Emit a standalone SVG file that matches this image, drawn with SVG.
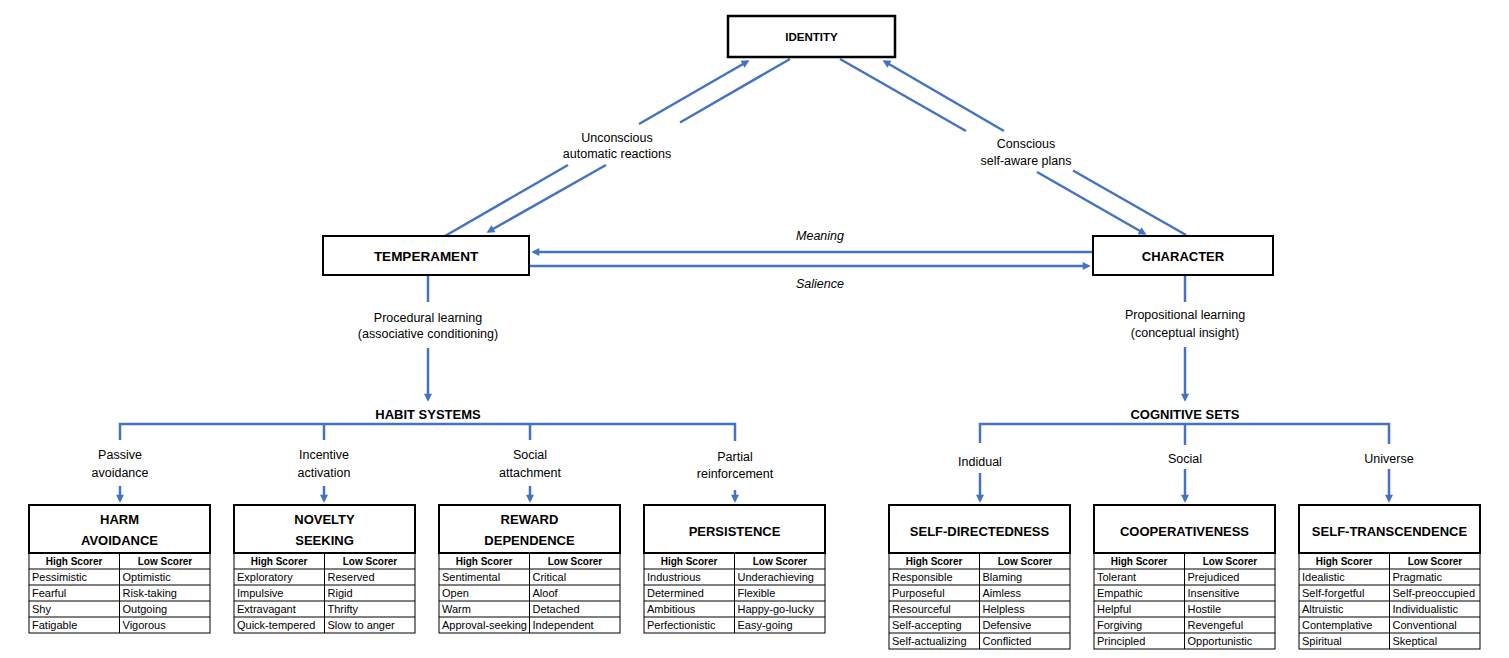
<svg xmlns="http://www.w3.org/2000/svg" width="1509" height="658" viewBox="0 0 1509 658">
<defs>
<marker id="ah" viewBox="0 0 10 10" markerUnits="userSpaceOnUse" markerWidth="9" markerHeight="8" refX="7" refY="5" orient="auto">
<path d="M0,0 L10,5 L0,10 z" fill="#4472C4"/>
</marker>
<style>
.ln{stroke:#4472C4;stroke-width:2.5;fill:none}
.arr{marker-end:url(#ah)}
.box{fill:#fff;stroke:#000;stroke-width:2.5}
.tbox{fill:#fff;stroke:#000;stroke-width:2}
.cell{fill:none;stroke:#000;stroke-width:1}
text{font-family:"Liberation Sans",Arial,sans-serif;fill:#000}
.nt{font-size:13px;font-weight:bold;text-anchor:middle}
.lb{font-size:12.5px;text-anchor:middle}
.it{font-size:12.5px;font-style:italic;text-anchor:middle}
.hd{font-size:13px;font-weight:bold;text-anchor:middle}
.tt{font-size:13px;font-weight:bold;text-anchor:middle}
.th{font-size:10px;font-weight:bold;text-anchor:middle}
.td{font-size:11px}
</style>
</defs>
<rect width="1509" height="658" fill="#fff"/>

<g id="connectors">
<line class="ln" x1="445" y1="236" x2="568" y2="165"/>
<line class="ln arr" x1="639" y1="124" x2="747.4" y2="61.5"/>
<line class="ln" x1="790" y1="59" x2="680" y2="122.5"/>
<line class="ln arr" x1="606" y1="165" x2="488.6" y2="231.5"/>
<line class="ln" x1="840" y1="59" x2="966" y2="131"/>
<line class="ln arr" x1="1037" y1="172" x2="1144.4" y2="233.5"/>
<line class="ln" x1="1186" y1="235" x2="1073" y2="170.5"/>
<line class="ln arr" x1="1004" y1="131" x2="884.6" y2="61.5"/>
<line class="ln arr" x1="1093" y1="252" x2="533.7" y2="252"/>
<line class="ln arr" x1="529" y1="266" x2="1088.3" y2="266"/>
<line class="ln" x1="428" y1="275" x2="428" y2="302"/>
<line class="ln arr" x1="428" y1="348" x2="428" y2="399.3"/>
<line class="ln" x1="1185" y1="275" x2="1185" y2="302"/>
<line class="ln arr" x1="1185" y1="347" x2="1185" y2="399.3"/>
<polyline class="ln" points="120,440 120,424 735,424 735,441"/>
<line class="ln" x1="324" y1="424" x2="324" y2="440"/>
<line class="ln" x1="530" y1="424" x2="530" y2="440"/>
<line class="ln arr" x1="120" y1="486" x2="120" y2="500.3"/>
<line class="ln arr" x1="324" y1="486" x2="324" y2="500.3"/>
<line class="ln arr" x1="530" y1="486" x2="530" y2="500.3"/>
<line class="ln arr" x1="735" y1="490" x2="735" y2="500.3"/>
<polyline class="ln" points="980,443 980,424 1389,424 1389,444"/>
<line class="ln" x1="1185" y1="424" x2="1185" y2="445"/>
<line class="ln arr" x1="980" y1="473" x2="980" y2="500.3"/>
<line class="ln arr" x1="1185" y1="469" x2="1185" y2="500.3"/>
<line class="ln arr" x1="1389" y1="469" x2="1389" y2="500.3"/>
</g>

<g id="connector-labels">
<text class="lb" x="617" y="141.5">Unconscious</text>
<text class="lb" x="617" y="157.5">automatic reactions</text>
<text class="lb" x="1026" y="147.5">Conscious</text>
<text class="lb" x="1026" y="164.5">self-aware plans</text>
<text class="it" x="820" y="239.5">Meaning</text>
<text class="it" x="820" y="287.5">Salience</text>
<text class="lb" x="428" y="321.5">Procedural learning</text>
<text class="lb" x="428" y="337.5">(associative conditioning)</text>
<text class="lb" x="1185" y="318.5">Propositional learning</text>
<text class="lb" x="1185" y="336.5">(conceptual insight)</text>
<text class="lb" x="120" y="458.5">Passive</text>
<text class="lb" x="120" y="476.5">avoidance</text>
<text class="lb" x="324" y="458.5">Incentive</text>
<text class="lb" x="324" y="476.5">activation</text>
<text class="lb" x="530" y="458.5">Social</text>
<text class="lb" x="530" y="476.5">attachment</text>
<text class="lb" x="735" y="460.5">Partial</text>
<text class="lb" x="735" y="477.5">reinforcement</text>
<text class="lb" x="980" y="465.5">Indidual</text>
<text class="lb" x="1185" y="462.5">Social</text>
<text class="lb" x="1389" y="462.5">Universe</text>
</g>

<g id="identity">
<rect class="box" x="728" y="16" width="167" height="41"/>
<text class="nt" x="811.5" y="40.5" style="font-size:11.5px">IDENTITY</text>
</g>
<g id="temperament">
<rect class="tbox" x="323" y="236" width="206" height="39"/>
<text class="nt" x="426" y="261" style="font-size:13.5px">TEMPERAMENT</text>
</g>
<g id="character">
<rect class="tbox" x="1093" y="236" width="180" height="39"/>
<text class="nt" x="1183" y="261">CHARACTER</text>
</g>
<g id="habit-systems">
<text class="hd" x="428" y="418.5">HABIT SYSTEMS</text>
</g>
<g id="cognitive-sets">
<text class="hd" x="1185" y="418.5">COGNITIVE SETS</text>
</g>

<g id="harm-avoidance">
<rect class="cell" x="29" y="553" width="181" height="80"/>
<path class="cell" d="M29,569H210M29,585H210M29,601H210M29,617H210M119.5,553V633"/>
<rect class="tbox" x="29" y="505" width="181" height="48"/>
<text class="tt" x="119.5" y="524">HARM</text>
<text class="tt" x="119.5" y="545">AVOIDANCE</text>
<text class="th" x="74" y="564.5">High Scorer</text>
<text class="th" x="165" y="564.5">Low Scorer</text>
<text class="td" x="32" y="581">Pessimistic</text><text class="td" x="122.5" y="581">Optimistic</text>
<text class="td" x="32" y="597">Fearful</text><text class="td" x="122.5" y="597">Risk-taking</text>
<text class="td" x="32" y="613">Shy</text><text class="td" x="122.5" y="613">Outgoing</text>
<text class="td" x="32" y="629">Fatigable</text><text class="td" x="122.5" y="629">Vigorous</text>
</g>

<g id="novelty-seeking">
<rect class="cell" x="234" y="553" width="181" height="80"/>
<path class="cell" d="M234,569H415M234,585H415M234,601H415M234,617H415M324.5,553V633"/>
<rect class="tbox" x="234" y="505" width="181" height="48"/>
<text class="tt" x="324.5" y="524">NOVELTY</text>
<text class="tt" x="324.5" y="545">SEEKING</text>
<text class="th" x="279" y="564.5">High Scorer</text>
<text class="th" x="370" y="564.5">Low Scorer</text>
<text class="td" x="237" y="581">Exploratory</text><text class="td" x="327.5" y="581">Reserved</text>
<text class="td" x="237" y="597">Impulsive</text><text class="td" x="327.5" y="597">Rigid</text>
<text class="td" x="237" y="613">Extravagant</text><text class="td" x="327.5" y="613">Thrifty</text>
<text class="td" x="237" y="629">Quick-tempered</text><text class="td" x="327.5" y="629">Slow to anger</text>
</g>

<g id="reward-dependence">
<rect class="cell" x="439" y="553" width="181" height="80"/>
<path class="cell" d="M439,569H620M439,585H620M439,601H620M439,617H620M529.5,553V633"/>
<rect class="tbox" x="439" y="505" width="181" height="48"/>
<text class="tt" x="529.5" y="524">REWARD</text>
<text class="tt" x="529.5" y="545">DEPENDENCE</text>
<text class="th" x="484" y="564.5">High Scorer</text>
<text class="th" x="575" y="564.5">Low Scorer</text>
<text class="td" x="442" y="581">Sentimental</text><text class="td" x="532.5" y="581">Critical</text>
<text class="td" x="442" y="597">Open</text><text class="td" x="532.5" y="597">Aloof</text>
<text class="td" x="442" y="613">Warm</text><text class="td" x="532.5" y="613">Detached</text>
<text class="td" x="442" y="629">Approval-seeking</text><text class="td" x="532.5" y="629">Independent</text>
</g>

<g id="persistence">
<rect class="cell" x="644" y="553" width="181" height="80"/>
<path class="cell" d="M644,569H825M644,585H825M644,601H825M644,617H825M734.5,553V633"/>
<rect class="tbox" x="644" y="505" width="181" height="48"/>
<text class="tt" x="734.5" y="535.5">PERSISTENCE</text>
<text class="th" x="689" y="564.5">High Scorer</text>
<text class="th" x="780" y="564.5">Low Scorer</text>
<text class="td" x="647" y="581">Industrious</text><text class="td" x="737.5" y="581">Underachieving</text>
<text class="td" x="647" y="597">Determined</text><text class="td" x="737.5" y="597">Flexible</text>
<text class="td" x="647" y="613">Ambitious</text><text class="td" x="737.5" y="613">Happy-go-lucky</text>
<text class="td" x="647" y="629">Perfectionistic</text><text class="td" x="737.5" y="629">Easy-going</text>
</g>

<g id="self-directedness">
<rect class="cell" x="889" y="553" width="181" height="96"/>
<path class="cell" d="M889,569H1070M889,585H1070M889,601H1070M889,617H1070M889,633H1070M979.5,553V649"/>
<rect class="tbox" x="889" y="505" width="181" height="48"/>
<text class="tt" x="979.5" y="535.5">SELF-DIRECTEDNESS</text>
<text class="th" x="934" y="564.5">High Scorer</text>
<text class="th" x="1025" y="564.5">Low Scorer</text>
<text class="td" x="892" y="581">Responsible</text><text class="td" x="982.5" y="581">Blaming</text>
<text class="td" x="892" y="597">Purposeful</text><text class="td" x="982.5" y="597">Aimless</text>
<text class="td" x="892" y="613">Resourceful</text><text class="td" x="982.5" y="613">Helpless</text>
<text class="td" x="892" y="629">Self-accepting</text><text class="td" x="982.5" y="629">Defensive</text>
<text class="td" x="892" y="645">Self-actualizing</text><text class="td" x="982.5" y="645">Conflicted</text>
</g>

<g id="cooperativeness">
<rect class="cell" x="1094" y="553" width="181" height="96"/>
<path class="cell" d="M1094,569H1275M1094,585H1275M1094,601H1275M1094,617H1275M1094,633H1275M1184.5,553V649"/>
<rect class="tbox" x="1094" y="505" width="181" height="48"/>
<text class="tt" x="1184.5" y="535.5">COOPERATIVENESS</text>
<text class="th" x="1139" y="564.5">High Scorer</text>
<text class="th" x="1230" y="564.5">Low Scorer</text>
<text class="td" x="1097" y="581">Tolerant</text><text class="td" x="1187.5" y="581">Prejudiced</text>
<text class="td" x="1097" y="597">Empathic</text><text class="td" x="1187.5" y="597">Insensitive</text>
<text class="td" x="1097" y="613">Helpful</text><text class="td" x="1187.5" y="613">Hostile</text>
<text class="td" x="1097" y="629">Forgiving</text><text class="td" x="1187.5" y="629">Revengeful</text>
<text class="td" x="1097" y="645">Principled</text><text class="td" x="1187.5" y="645">Opportunistic</text>
</g>

<g id="self-transcendence">
<rect class="cell" x="1299" y="553" width="181" height="96"/>
<path class="cell" d="M1299,569H1480M1299,585H1480M1299,601H1480M1299,617H1480M1299,633H1480M1389.5,553V649"/>
<rect class="tbox" x="1299" y="505" width="181" height="48"/>
<text class="tt" x="1389.5" y="535.5">SELF-TRANSCENDENCE</text>
<text class="th" x="1344" y="564.5">High Scorer</text>
<text class="th" x="1435" y="564.5">Low Scorer</text>
<text class="td" x="1302" y="581">Idealistic</text><text class="td" x="1392.5" y="581">Pragmatic</text>
<text class="td" x="1302" y="597">Self-forgetful</text><text class="td" x="1392.5" y="597">Self-preoccupied</text>
<text class="td" x="1302" y="613">Altruistic</text><text class="td" x="1392.5" y="613">Individualistic</text>
<text class="td" x="1302" y="629">Contemplative</text><text class="td" x="1392.5" y="629">Conventional</text>
<text class="td" x="1302" y="645">Spiritual</text><text class="td" x="1392.5" y="645">Skeptical</text>
</g>
</svg>
